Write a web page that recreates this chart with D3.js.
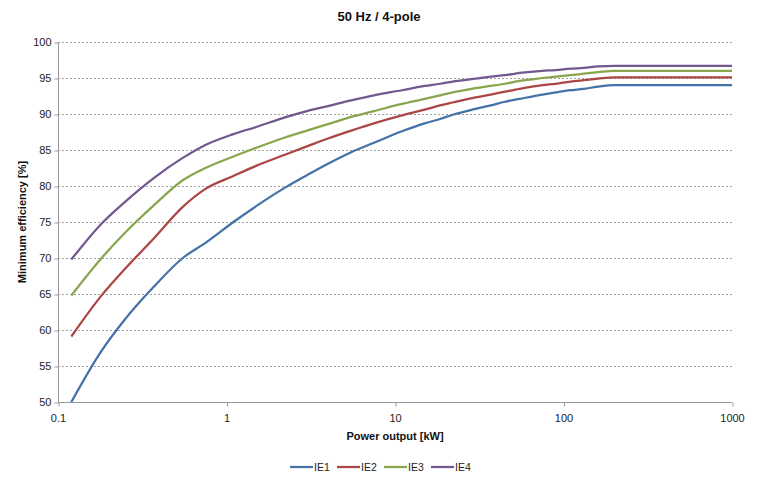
<!DOCTYPE html>
<html><head><meta charset="utf-8">
<script src="https://cdn.jsdelivr.net/npm/d3@7"></script>
<style>body{margin:0;background:#fff}text{font-family:"Liberation Sans",Arial,sans-serif}</style>
</head><body><svg id="c" width="757" height="491"></svg>
<script>
const power = [0.12,0.18,0.25,0.37,0.55,0.75,1.1,1.5,2.2,3,4,5.5,7.5,11,15,18.5,22,30,37,45,55,75,90,110,132,160,200,1000];
const ie1 = [50.0,57.0,61.5,66.0,70.0,72.1,75.0,77.2,79.7,81.5,83.1,84.7,86.0,87.6,88.7,89.3,89.9,90.7,91.2,91.7,92.1,92.7,93.0,93.3,93.5,93.8,94.0,94.0];
const ie2 = [59.1,64.7,68.5,72.7,77.1,79.6,81.4,82.8,84.3,85.5,86.6,87.7,88.7,89.8,90.6,91.2,91.6,92.3,92.7,93.1,93.5,94.0,94.2,94.5,94.7,94.9,95.1,95.1];
const ie3 = [64.8,69.9,73.5,77.3,80.8,82.5,84.1,85.3,86.7,87.7,88.6,89.6,90.4,91.4,92.1,92.6,93.0,93.6,93.9,94.2,94.6,95.0,95.2,95.4,95.6,95.8,96.0,96.0];
const ie4 = [69.8,74.7,77.8,81.1,83.9,85.7,87.2,88.2,89.5,90.4,91.1,91.9,92.6,93.3,93.9,94.2,94.5,94.9,95.2,95.4,95.7,96.0,96.1,96.3,96.4,96.6,96.7,96.7];
const seriesNames = ["IE1","IE2","IE3","IE4"];
const colors = ["#4572A7","#AA4643","#89A54E","#71588F"];
const xTicks = [0.1,1,10,100,1000];
const yTicks = [50,55,60,65,70,75,80,85,90,95,100];
const seriesValues = [ie1,ie2,ie3,ie4];

const svg = d3.select("#c");
const L=58,R=732,T=42,B=402;
const x = d3.scaleLog().domain([0.1,1000]).range([L,R]);
const y = d3.scaleLinear().domain([50,100]).range([B,T]);

// gridlines
svg.append("g").selectAll("line").data(yTicks.filter(d=>d>50)).join("line")
  .attr("x1",L).attr("x2",R).attr("y1",d=>y(d)+0.5).attr("y2",d=>y(d)+0.5)
  .attr("stroke","#a0a0a0").attr("stroke-width",1).attr("stroke-dasharray","2,2");

// y axis
const ya = svg.append("g").attr("transform",`translate(${L+0.5},0)`)
  .call(d3.axisLeft(y).tickValues(yTicks).tickSize(4).tickPadding(3).tickFormat(d3.format("d")));
ya.select(".domain").attr("stroke","#9a9a9a").attr("d",`M0,${T}V${B+0.5}`);
ya.selectAll(".tick line").attr("stroke","#9a9a9a").attr("transform","translate(0,0.5)");
ya.selectAll("text").attr("font-size",11).attr("fill","#222").attr("dy","0.35em").attr("font-family","Liberation Sans, Arial, sans-serif");

// x axis
const xa = svg.append("g").attr("transform",`translate(0,${B+0.5})`)
  .call(d3.axisBottom(x).tickValues(xTicks).tickSize(4).tickPadding(8).tickFormat(d=>String(d)));
xa.select(".domain").attr("stroke","#9a9a9a").attr("d",`M${L},0H${R}`);
xa.selectAll(".tick line").attr("stroke","#9a9a9a").attr("transform","translate(0.5,0)");
xa.selectAll("text").attr("font-size",11).attr("fill","#222").attr("font-family","Liberation Sans, Arial, sans-serif");

// lines
const line = d3.line().x((d,i)=>x(power[i])).y(d=>y(d)).curve(d3.curveMonotoneX);
svg.append("g").selectAll("path").data(seriesValues).join("path")
  .attr("d",d=>line(d)).attr("fill","none")
  .attr("stroke",(d,i)=>colors[i]).attr("stroke-width",2.25).attr("stroke-linejoin","round");

// title
svg.append("text").attr("x",379).attr("y",21).attr("text-anchor","middle")
  .attr("font-size",13).attr("font-weight","bold").attr("fill","#111").text("50 Hz / 4-pole");
// axis titles
svg.append("text").attr("x",(L+R)/2).attr("y",440).attr("text-anchor","middle")
  .attr("font-size",11).attr("font-weight","bold").attr("fill","#111").text("Power output [kW]");
svg.append("text").attr("transform",`translate(26,${(T+B)/2}) rotate(-90)`).attr("text-anchor","middle")
  .attr("font-size",11).attr("font-weight","bold").attr("fill","#111").text("Minimum efficiency [%]");

// legend
const lx=[290,337,384,431];
const lg = svg.append("g").selectAll("g").data(seriesNames).join("g")
  .attr("transform",(d,i)=>`translate(${lx[i]},467)`);
lg.append("line").attr("x1",0).attr("x2",23).attr("y1",0).attr("y2",0)
  .attr("stroke",(d,i)=>colors[i]).attr("stroke-width",2.25);
lg.append("text").attr("x",24).attr("y",4).attr("font-size",10.5).attr("fill","#222").text(d=>d);
</script></body></html>
